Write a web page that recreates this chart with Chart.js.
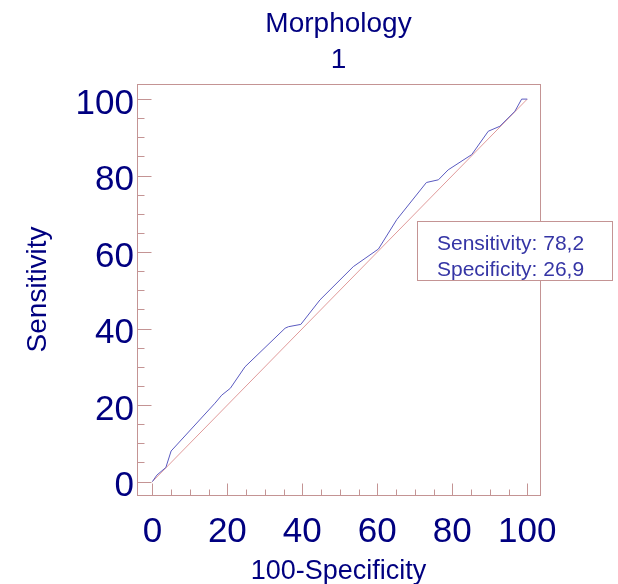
<!DOCTYPE html>
<html><head><meta charset="utf-8">
<script src="https://cdn.jsdelivr.net/npm/chart.js@4/dist/chart.umd.min.js"></script>
<style>html,body{margin:0;padding:0;background:#fff}#wrap{width:618px;height:584px}</style>
</head><body><div id="wrap"><canvas id="c" width="618" height="584"></canvas></div>
<script>
const chartTitle = ['Morphology', '1'];
const xAxisTitle = '100-Specificity';
const yAxisTitle = 'Sensitivity';
const falsePositive = [0, 1.2, 3.6, 5.0, 16.7, 18.5, 20.8, 24.7, 35.4, 36.3, 39.6, 44.7, 53.6, 60.3, 65.2, 73.1, 76.3, 78.9, 85.2, 89.6, 92.7, 96.7, 98.5, 100];
const sensitivity   = [0, 1.7, 3.7, 8.0, 20.5, 22.6, 24.4, 30.0, 40.1, 40.5, 41.1, 47.5, 56.2, 60.8, 68.5, 78.2, 78.9, 81.5, 85.5, 91.6, 92.9, 96.8, 100, 100];
const diagonalX = [0, 100];
const diagonalY = [0, 100];
const tickValues = [0, 5, 10, 15, 20, 25, 30, 35, 40, 45, 50, 55, 60, 65, 70, 75, 80, 85, 90, 95, 100];
const labelEvery = 20;
const criterionSensitivity = 78.2;
const criterionSpecificity = 26.9;

const FONT = '"Liberation Sans", Arial, Helvetica, sans-serif';
const NAVY = '#000080';
const FRAME = '#c49494';
const fmt = v => v.toFixed(1).replace('.', ',');

const framePlugin = {
  id: 'frameTicks',
  beforeDatasetsDraw(chart) {
    const {ctx, chartArea: a, scales: {x, y}} = chart;
    ctx.save();
    ctx.strokeStyle = FRAME; ctx.lineWidth = 1;
    const L = Math.round(a.left) + 0.5, T = Math.round(a.top) + 0.5;
    const R = Math.round(a.right) + 0.5, B = Math.round(a.bottom) + 0.5;
    ctx.strokeRect(L, T, R - L, B - T);
    ctx.beginPath();
    tickValues.forEach(v => {
      const major = v % labelEvery === 0;
      const px = Math.round(x.getPixelForValue(v)) + 0.5;
      ctx.moveTo(px, B); ctx.lineTo(px, B - (major ? 12 : 6));
      const py = Math.round(y.getPixelForValue(v)) + 0.5;
      ctx.moveTo(L, py); ctx.lineTo(L + (major ? 14 : 7), py);
    });
    ctx.stroke();
    ctx.restore();
  },
  afterDraw(chart) {
    const {ctx} = chart;
    ctx.save();
    ctx.fillStyle = '#ffffff';
    ctx.fillRect(417, 221, 196, 60);
    ctx.strokeStyle = FRAME; ctx.lineWidth = 1;
    ctx.strokeRect(417.5, 221.5, 195, 59);
    ctx.fillStyle = '#3535a5';
    ctx.font = '21px ' + FONT;
    ctx.textBaseline = 'middle';
    ctx.textAlign = 'left';
    ctx.fillText('Sensitivity: ' + fmt(criterionSensitivity), 437, 244);
    ctx.fillText('Specificity: ' + fmt(criterionSpecificity), 437, 270);
    ctx.restore();
  }
};

const curve = falsePositive.map((v, i) => ({x: v, y: sensitivity[i]}));
const diag = diagonalX.map((v, i) => ({x: v, y: diagonalY[i]}));

new Chart(document.getElementById('c'), {
  type: 'scatter',
  data: {
    datasets: [
      {data: diag, showLine: true, borderColor: '#e09a9a', borderWidth: 1, pointRadius: 0, order: 2},
      {data: curve, showLine: true, borderColor: '#5a5ac0', borderWidth: 1, pointRadius: 0, order: 1}
    ]
  },
  options: {
    responsive: false, animation: false, devicePixelRatio: 1,
    layout: {padding: {left: 0, right: 78, top: 0, bottom: 0}},
    plugins: {
      legend: {display: false}, tooltip: {enabled: false},
      title: {display: true, text: chartTitle, fullSize: false, color: NAVY,
        font: {family: FONT, size: 28, lineHeight: 1.3, weight: 'normal'}, padding: {top: 6, bottom: 5}}
    },
    scales: {
      x: {
        type: 'linear', min: -4.1, max: 103.4,
        afterBuildTicks: s => { s.ticks = tickValues.map(v => ({value: v})); },
        afterFit: s => { s.height = 89; },
        grid: {display: false, drawTicks: false}, border: {display: false},
        ticks: {autoSkip: false, maxRotation: 0, padding: 16, color: NAVY,
          font: {family: FONT, size: 35}, callback: v => (v % labelEvery === 0 ? String(v) : '')},
        title: {display: true, text: xAxisTitle, color: NAVY, font: {family: FONT, size: 27}, padding: {top: 0, bottom: -4}}
      },
      y: {
        type: 'linear', min: -3.5, max: 104,
        afterBuildTicks: s => { s.ticks = tickValues.map(v => ({value: v})); },
        afterFit: s => { s.width = 137; },
        grid: {display: false, drawTicks: false}, border: {display: false},
        ticks: {autoSkip: false, padding: 3, labelOffset: 5, color: NAVY,
          font: {family: FONT, size: 35}, callback: v => (v % labelEvery === 0 ? String(v) : '')},
        title: {display: true, text: yAxisTitle, color: NAVY, font: {family: FONT, size: 28}, padding: {top: 21, bottom: 0}}
      }
    }
  },
  plugins: [framePlugin]
});
</script>
</body></html>
